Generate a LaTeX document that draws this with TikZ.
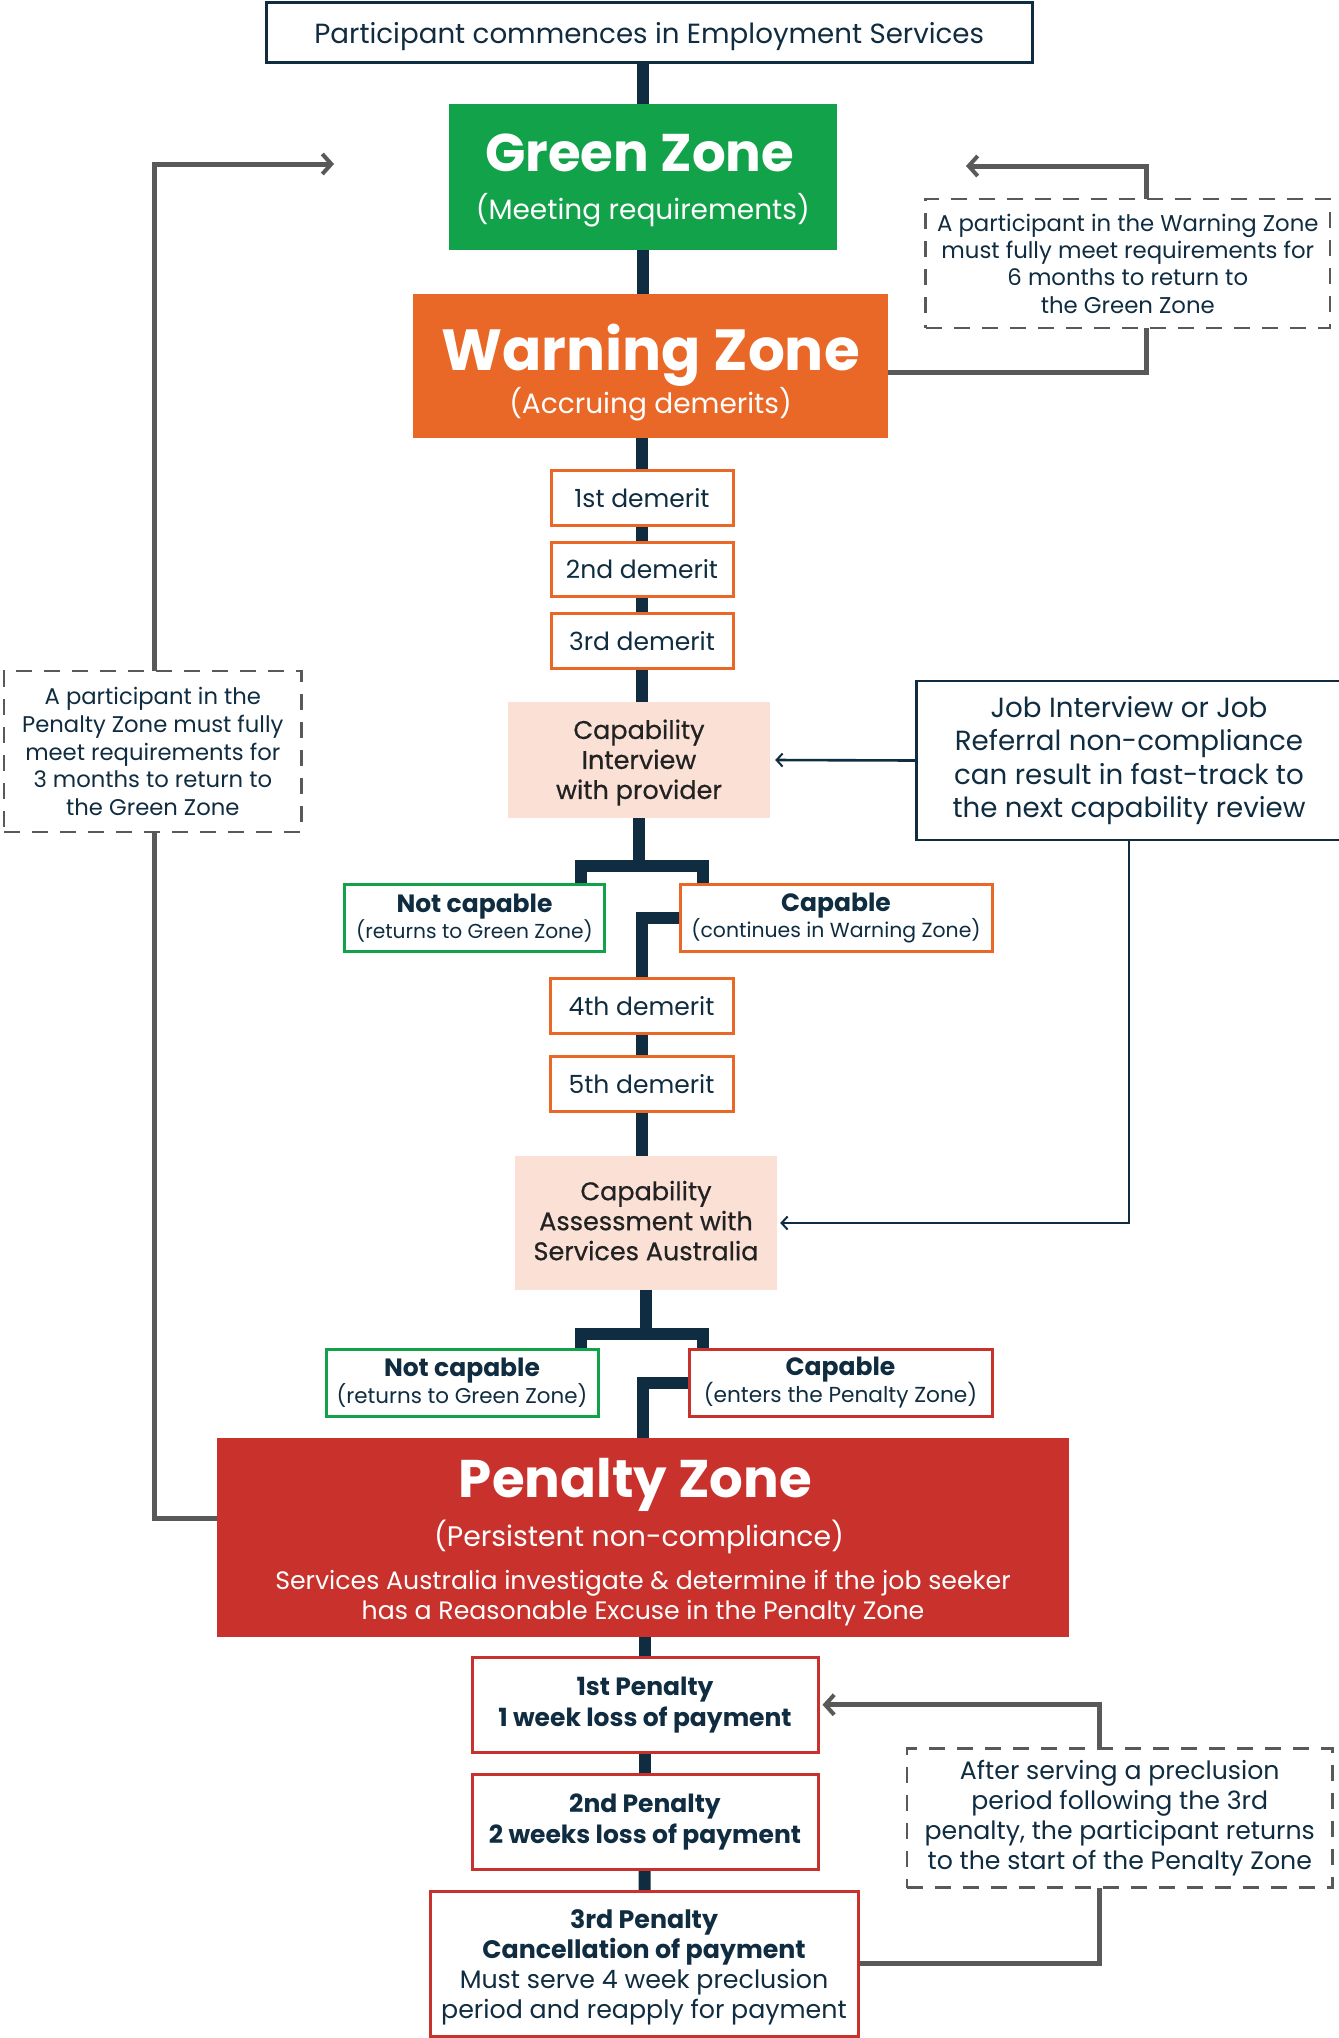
\documentclass[tikz,border=0pt]{standalone}
\usepackage{fontspec}
\setmainfont{Poppins}
\newfontfamily\pmed{Poppins}[FakeBold=0.6]
\usepackage{tikz}
\usetikzlibrary{arrows.meta}
\usetikzlibrary{backgrounds}

\definecolor{navy}{HTML}{0F2C40}
\definecolor{charcoal}{HTML}{222222}
\definecolor{zgreen}{HTML}{12A24A}
\definecolor{zorange}{HTML}{E96827}
\definecolor{zred}{HTML}{C8312C}
\definecolor{peach}{HTML}{FAE0D5}
\definecolor{linegray}{HTML}{595959}

\newcommand{\fsz}[2]{\fontsize{#1}{#2}\selectfont}
\newcommand{\lift}[1]{\rule{0pt}{#1}}

\begin{document}
\begin{tikzpicture}[x=1pt,y=-1pt,
    trunk/.style={draw=navy,line width=12pt,line join=miter},
    back/.style={draw=linegray,line width=5pt,-{Straight Barb[length=9pt,width=20pt,line width=4pt]}},
    hint/.style={draw=navy,line width=2.6pt,-{Straight Barb[length=6pt,width=13pt,line width=2pt]}}]
\useasboundingbox (0,0) rectangle (1339,2038);

		% zones
		\begin{scope}[every node/.style={inner sep=0pt,align=center,text=white}]
			\node[fill=zgreen,minimum width=388.5pt,minimum height=146pt,font=\fsz{28}{34}] (green) at (642.75,177)
			    {{\fsz{53}{56}\bfseries\lift{45pt}Green Zone\kern6pt}\\[13.6pt](Meeting requirements)};
			\node[fill=zorange,minimum width=475pt,minimum height=144pt,font=\fsz{28}{34}] (warn) at (650.5,366)
			    {{\fsz{58}{62}\bfseries\lift{59pt}Warning Zone}\\[0pt](Accruing demerits)};
			\node[fill=zred,minimum width=852pt,minimum height=199pt,font=\fsz{25.2}{30}] (pen) at (643,1537.5)
			    {{\fsz{53}{56}\bfseries\lift{49pt}Penalty Zone\kern15pt}\\[7.7pt]{\fsz{28.3}{34}(Persistent non-compliance)\kern8pt}\\[13pt]Services Australia investigate \& determine if the job seeker\\has a Reasonable Excuse in the Penalty Zone};
		\end{scope}

		% boxes on the main line
		\begin{scope}[every node/.style={draw,fill=white,line width=3pt,inner sep=0pt,align=center,text=navy}]
			\node[draw=navy,minimum width=765.5pt,minimum height=59.8pt,font=\fsz{27.7}{32}] (start) at (649.25,32.5) {\lift{29pt}Participant commences in Employment Services};
			\node[draw=zorange,minimum width=182pt,minimum height=54.4pt,font=\fsz{25}{30}] (d1) at (642,497.8) {1st demerit};
			\node[draw=zorange,minimum width=182pt,minimum height=54.4pt,font=\fsz{25}{30}] (d2) at (642,569.5) {2nd demerit};
			\node[draw=zorange,minimum width=182pt,minimum height=54.4pt,font=\fsz{25}{30}] (d3) at (642,641) {3rd demerit};
			\node[draw=zorange,minimum width=183pt,minimum height=54.5pt,font=\fsz{25}{30}] (d4) at (641.5,1006) {4th demerit};
			\node[draw=zorange,minimum width=183pt,minimum height=54.5pt,font=\fsz{25}{30}] (d5) at (641.5,1084) {5th demerit};
			\node[draw=zgreen,minimum width=260pt,minimum height=67.6pt,font=\fsz{20.2}{26}] (ncap1) at (474.5,917.8)
			    {{\fsz{25}{26}\bfseries Not capable}\\(returns to Green Zone)};
			\node[draw=zorange,minimum width=312pt,minimum height=67.6pt,font=\fsz{20.4}{26}] (cap1) at (836,917.8)
			    {{\fsz{25}{26}\bfseries Capable}\\(continues in Warning Zone)};
			\node[draw=zgreen,minimum width=272pt,minimum height=67pt,font=\fsz{21.4}{27}] (ncap2) at (462,1382.5)
			    {{\fsz{25}{26}\bfseries Not capable}\\(returns to Green Zone)};
			\node[draw=zred,minimum width=303pt,minimum height=67pt,font=\fsz{21.7}{27}] (cap2) at (840.5,1382.5)
			    {{\fsz{25}{26}\bfseries Capable}\\(enters the Penalty Zone)};
			\node[draw=zred,minimum width=346pt,minimum height=94.5pt,font=\fsz{25}{31}\bfseries] (p1) at (645,1704.75)
			    {1st Penalty\\1 week loss of payment};
			\node[draw=zred,minimum width=346pt,minimum height=94.9pt,font=\fsz{25}{31}\bfseries] (p2) at (645,1822)
			    {2nd Penalty\\2 weeks loss of payment};
			\node[draw=zred,minimum width=428pt,minimum height=144.5pt,font=\fsz{25.3}{30}] (p3) at (644,1963.75)
			    {\textbf{\lift{26.3pt}3rd Penalty}\\\textbf{Cancellation of payment}\\Must serve 4 week preclusion\\period and reapply for payment};
		\end{scope}

		% capability checks
		\begin{scope}[every node/.style={fill=peach,inner sep=0pt,align=center,text=charcoal,font=\fsz{25.5}{30}\pmed}]
			\node[minimum width=262pt,minimum height=116pt] (capint) at (639,760) {\lift{24.5pt}Capability\\Interview\\with provider};
			\node[minimum width=262pt,minimum height=134pt] (capas) at (646,1223) {Capability\\Assessment with\\Services Australia\rule[-5pt]{0pt}{5pt}};
		\end{scope}

		% side notes
		\begin{scope}[every node/.style={fill=white,inner sep=0pt,align=center,text=navy,draw=linegray,line width=2.5pt,dash pattern=on 16pt off 12pt}]
			\node[minimum width=404.4pt,minimum height=129pt,font=\fsz{22.8}{27.3}] (wnote) at (1127.8,263.5)
			    {A participant in the Warning Zone\\must fully meet requirements for\\6 months to return to\\the Green Zone};
			\node[minimum width=297.6pt,minimum height=161pt,font=\fsz{22.7}{27.6}] (lnote) at (152.8,751.5)
			    {A participant in the\\Penalty Zone must fully\\meet requirements for\\3 months to return to\\the Green Zone};
			\node[minimum width=425.5pt,minimum height=139pt,font=\fsz{25.2}{30}] (pnote) at (1119.75,1818)
			    {After serving a preclusion\\period following the 3rd\\penalty, the participant returns\\to the start of the Penalty Zone};
			\node[solid,draw=navy,line width=2.5pt,minimum width=425pt,minimum height=159pt,font=\fsz{27.7}{33.4}] (job) at (1129,760.5)
			    {Job Interview or Job\\Referral non-compliance\\can result in fast-track to\\the next capability review};
		\end{scope}

		\coordinate (br1l) at (581,866);
		\coordinate (br1r) at (703,866);
		\coordinate (br2l) at (581,1334);
		\coordinate (br2r) at (703,1334);
		\coordinate (gzL) at (334,164);
		\coordinate (lturn) at (154.7,164);
		\coordinate (gzR) at (966,166);
		\coordinate (wturn) at (1146.6,166);

		\begin{scope}[on background layer]
			\path[trunk] (start.south -| green.north) -- (green.north);
			\path[trunk] (green.south) -- (green.south |- warn.north);
			\path[trunk] (warn.south -| d1.north) -- (d1.north);
			\path[trunk] (d1) -- (d2);
			\path[trunk] (d2) -- (d3);
			\path[trunk] (d3.south) -- (d3.south |- capint.north);
			\path[trunk] (capint.south) -- (capint.south |- br1l);
			\path[trunk] (ncap1.north -| br1l) |- (br1r) -- (cap1.north -| br1r);
			\path[trunk] (cap1.west) -| (d4.north);
			\path[trunk] (d4) -- (d5);
			\path[trunk] (d5.south) -- (d5.south |- capas.north);
			\path[trunk] (capas.south) -- (capas.south |- br2l);
			\path[trunk] (ncap2.north -| br2l) |- (br2r) -- (cap2.north -| br2r);
			\path[trunk] (cap2.west) -| (pen.north);
			\path[trunk] (pen.south -| p1.north) -- (p1.north);
			\path[trunk] (p1) -- (p2);
			\path[trunk] (p2) -- (p3);

			\path[back] ([yshift=19.5pt]pen.west) -| (lturn) -- (gzL);
			\path[back] ([yshift=-6pt]warn.east) -| (wturn) -- (gzR);
			\path[back] (p3.east) -| ([xshift=280pt]p1.east) -- ([xshift=3pt]p1.east);

			\path[hint] (job.west) -- ([xshift=5pt]capint.east);
			\path[hint] (job.south) |- ([xshift=3pt]capas.east);
		\end{scope}
\end{tikzpicture}
\end{document}
